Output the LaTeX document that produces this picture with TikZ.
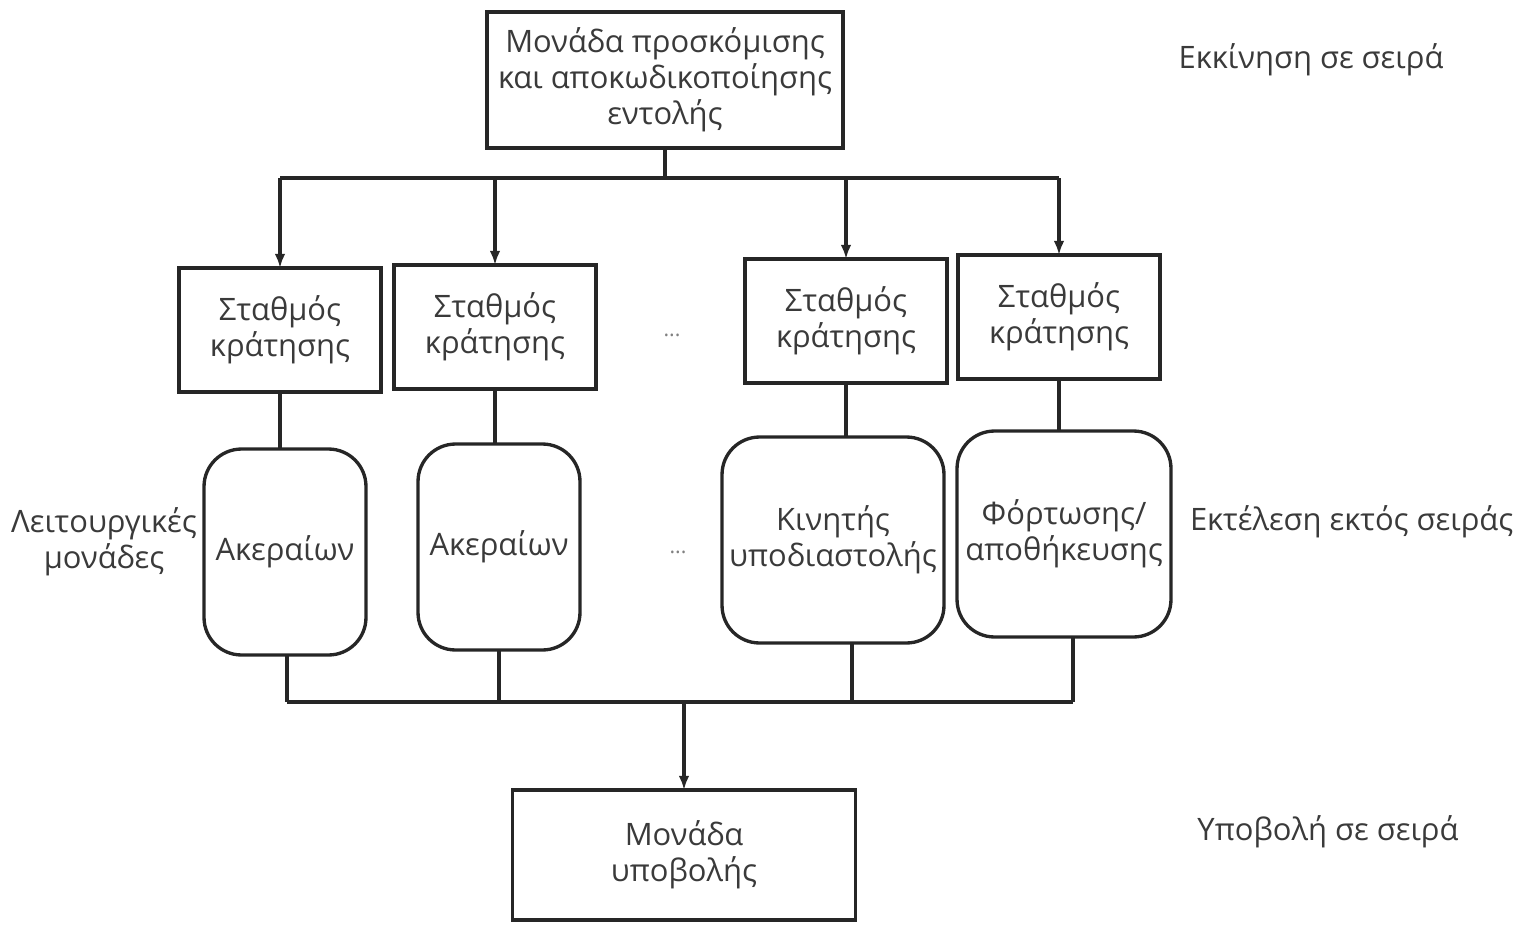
\documentclass[tikz,border=0pt]{standalone}
\usepackage{fontspec}
\setmainfont{Open Sans}
\usetikzlibrary{arrows.meta,positioning}
\definecolor{ink}{HTML}{262626}
\definecolor{txt}{HTML}{3A3A3A}
\tikzset{
  x=0.02cm, y=-0.02cm,
  every node/.style={font=\fontsize{17.6}{20.5}\selectfont, text=txt, align=center, inner sep=0pt, outer sep=0pt},
  wire/.style={draw=ink, line width=1.9pt},
  feed/.style={wire, -{Latex[length=8pt,width=6pt]}},
  unitbox/.style={draw=ink, line width=1.9pt, rectangle},
  station/.style={unitbox, minimum width=4.04cm, minimum height=2.48cm},
  fu/.style={draw=ink, line width=1.9pt, rectangle, rounded corners=0.75cm, minimum height=4.12cm},
  sidelabel/.style={font=\fontsize{17.6}{20.5}\selectfont},
  dots/.style={font=\fontsize{12}{14}\selectfont, text=gray}
}
\begin{document}
\begin{tikzpicture}
\useasboundingbox (0,0) rectangle (1523,926);
\clip (0,0) rectangle (1523,926);

% issue stage
\node[unitbox, minimum width=7.12cm, minimum height=2.72cm] (fetch) at (665,80)
  {Μονάδα προσκόμισης\\και αποκωδικοποίησης\\εντολής};

% reservation stations
\node[station] (rs1) at (280,330) {Σταθμός\\κράτησης};
\node[station] (rs2) at (495,327) {Σταθμός\\κράτησης};
\node[station] (rs3) at (846,321) {Σταθμός\\κράτησης};
\node[station] (rs4) at (1059,317) {Σταθμός\\κράτησης};
\node[dots] (dotsA) at (672,335) {...};

% functional units
\node[fu, minimum width=3.24cm] (fu1) at (285,552) {Ακεραίων};
\node[fu, minimum width=3.24cm] (fu2) at (499,547) {Ακεραίων};
\node[fu, minimum width=4.44cm] (fu3) at (833,540) {Κινητής\\υποδιαστολής};
\node[fu, minimum width=4.28cm] (fu4) at (1064,534) {Φόρτωσης/\\αποθήκευσης};
\node[dots] (dotsB) at (678,552) {...};

% commit stage
\node[unitbox, minimum width=6.86cm, minimum height=2.6cm] (commit) at (684,855)
  {Μονάδα\\υποβολής};

% side labels
\node[sidelabel] (lblIssue) at (1311,60) {Εκκίνηση σε σειρά};
\node[sidelabel] (lblFU) at (104,542) {Λειτουργικές\\μονάδες};
\node[sidelabel, anchor=west] (lblExec) at (1190,522) {Εκτέλεση εκτός σειράς};
\node[sidelabel] (lblCommit) at (1328,832) {Υποβολή σε σειρά};

% dispatch bus
\coordinate (split) at (665,178);
\draw[wire] (fetch.south) -- (split);
\draw[wire] (rs1.north |- split) -- (rs4.north |- split);
\foreach \r in {rs1,rs2,rs3,rs4}
  \draw[feed] (\r.north |- split) -- (\r.north);

% station to unit links
\foreach \r/\f in {rs1/fu1,rs2/fu2,rs3/fu3,rs4/fu4}
  \draw[wire] (\r.south) -- (\r.south |- \f.north);

% result bus
\coordinate (merge) at (684,702);
\coordinate (out1) at ([xshift=0.04cm]fu1.south);
\coordinate (out2) at (fu2.south);
\coordinate (out3) at ([xshift=0.38cm]fu3.south);
\coordinate (out4) at ([xshift=0.18cm]fu4.south);
\draw[wire] (out1 |- merge) -- (out4 |- merge);
\foreach \o in {out1,out2,out3,out4}
  \draw[wire] (\o) -- (\o |- merge);
\draw[feed] (merge) -- (commit.north);
\end{tikzpicture}
\end{document}
